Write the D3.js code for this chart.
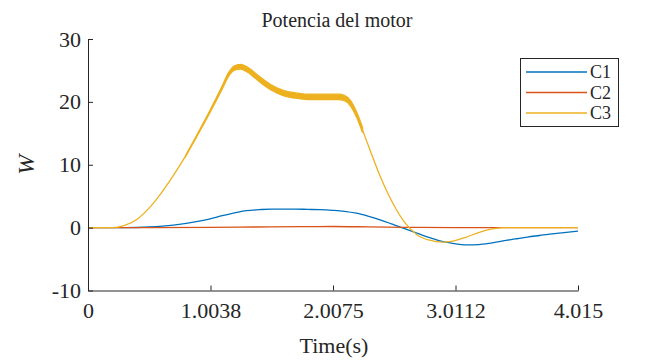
<!DOCTYPE html>
<html>
<head>
<meta charset="utf-8">
<script src="https://cdn.jsdelivr.net/npm/d3@7"></script>
<style>
  html, body { margin: 0; padding: 0; background: #fff; }
  svg { display: block; }
  text { font-family: "Liberation Serif", "Times New Roman", serif; fill: #262626; }
</style>
</head>
<body>
<svg id="chart" width="666" height="360"></svg>
<script>
// Motor power per channel over time
const seriesNames = ["C1", "C2", "C3"];
const seriesColors = ["#0072BD", "#D95319", "#EDB120"];

const xTickValues = [0, 1.00375, 2.0075, 3.01125, 4.015];
const xTickLabels = ["0", "1.0038", "2.0075", "3.0112", "4.015"];
const yTickValues = [-10, 0, 10, 20, 30];
const yTickLabels = ["-10", "0", "10", "20", "30"];

// C1
const c1Time = [0, 0.3, 0.5, 0.7, 0.9, 1.0, 1.1, 1.2, 1.3, 1.4, 1.5, 1.6, 1.7, 1.8, 1.9, 2.0, 2.1, 2.2, 2.3, 2.4, 2.5, 2.6, 2.7, 2.8, 2.9, 3.0, 3.1, 3.2, 3.3, 3.4, 3.5, 3.6, 3.7, 3.8, 3.9, 4.015];
const c1Power = [0, 0, 0.1, 0.4, 1.0, 1.4, 1.9, 2.35, 2.7, 2.85, 2.95, 2.95, 2.95, 2.9, 2.85, 2.75, 2.6, 2.3, 1.8, 1.2, 0.5, -0.2, -0.9, -1.6, -2.2, -2.55, -2.75, -2.7, -2.45, -2.1, -1.8, -1.5, -1.25, -1.0, -0.8, -0.55];

// C2
const c2Time = [0, 0.5, 1.0, 1.5, 2.0, 2.3, 2.6, 3.0, 4.015];
const c2Power = [0, 0, 0.05, 0.12, 0.18, 0.12, 0.05, 0, 0];

// C3
const c3Time = [0, 0.2, 0.3, 0.4, 0.5, 0.6, 0.7, 0.8, 0.9, 1.0, 1.1, 1.15, 1.2, 1.25, 1.3, 1.4, 1.5, 1.6, 1.7, 1.8, 1.9, 2.0, 2.05, 2.1, 2.15, 2.2, 2.25, 2.3, 2.4, 2.5, 2.6, 2.7, 2.8, 2.9, 3.0, 3.1, 3.2, 3.3, 3.4, 4.015];
const c3Power = [0, 0, 0.35, 1.3, 3.1, 5.5, 8.3, 11.4, 14.9, 18.5, 22.3, 24.3, 25.4, 25.6, 25.2, 23.7, 22.3, 21.4, 21.0, 20.8, 20.8, 20.8, 20.8, 20.6, 19.8, 18.0, 15.5, 12.9, 7.9, 3.8, 0.7, -1.2, -2.0, -2.3, -2.1, -1.5, -0.8, -0.25, 0, 0];
// half-width of the fast ripple riding on C3 (W)
const c3Ripple = [0, 0, 0, 0, 0, 0, 0, 0.05, 0.12, 0.18, 0.25, 0.3, 0.35, 0.38, 0.4, 0.42, 0.42, 0.42, 0.42, 0.42, 0.42, 0.42, 0.42, 0.42, 0.42, 0.42, 0.42, 0, 0, 0, 0, 0, 0, 0, 0, 0, 0, 0, 0, 0];

const svg = d3.select("#chart");
const x = d3.scaleLinear().domain([0, 4.015]).range([88, 578]);
const y = d3.scaleLinear().domain([-10, 30]).range([290.5, 39]);

const zip = (t, v) => t.map((d, i) => [d, v[i]]);
const line = d3.line().x(d => x(d[0])).y(d => y(d[1])).curve(d3.curveMonotoneX);

const plot = svg.append("g");
const series = [zip(c1Time, c1Power), zip(c2Time, c2Power), zip(c3Time, c3Power)];
series.forEach((pts, i) => {
  plot.append("path")
    .attr("d", line(pts))
    .attr("fill", "none")
    .attr("stroke", seriesColors[i])
    .attr("stroke-width", 1.3);
});

// ripple envelope on C3
const ripplePts = c3Time
  .map((t, i) => ({ t, v: c3Power[i], a: c3Ripple[i] }))
  .filter(d => d.a > 0);
plot.append("path")
  .attr("d", d3.area()
    .x(d => x(d.t))
    .y0(d => y(d.v - d.a))
    .y1(d => y(d.v + d.a))
    .curve(d3.curveMonotoneX)(ripplePts))
  .attr("fill", seriesColors[2])
  .attr("stroke", seriesColors[2])
  .attr("stroke-width", 1.3);

// axes with inward ticks
const xAxis = d3.axisBottom(x)
  .tickValues(xTickValues)
  .tickFormat((d, i) => xTickLabels[i])
  .tickSizeInner(-5).tickSizeOuter(0).tickPadding(12);
const gx = svg.append("g").attr("transform", `translate(0,${y(-10)})`).call(xAxis);

const yAxis = d3.axisLeft(y)
  .tickValues(yTickValues)
  .tickFormat((d, i) => yTickLabels[i])
  .tickSizeInner(-5).tickSizeOuter(0).tickPadding(7);
const gy = svg.append("g").attr("transform", `translate(${x(0)},0)`).call(yAxis);

[gx, gy].forEach(g => {
  g.select(".domain").attr("stroke", "#262626").attr("stroke-width", 1);
  g.selectAll(".tick line").attr("stroke", "#262626").attr("stroke-width", 1);
  g.selectAll(".tick text")
    .attr("fill", "#262626")
    .style("font-family", '"Liberation Serif", serif')
    .style("font-size", "22px");
});

// titles
svg.append("text")
  .attr("x", 337).attr("y", 27)
  .attr("text-anchor", "middle")
  .style("font-size", "20px")
  .text("Potencia del motor");

svg.append("text")
  .attr("x", 334).attr("y", 353)
  .attr("text-anchor", "middle")
  .style("font-size", "22px")
  .text("Time(s)");

svg.append("text")
  .attr("transform", `translate(34,${y(10)}) rotate(-90)`)
  .attr("text-anchor", "middle")
  .style("font-size", "24px")
  .style("font-style", "italic")
  .text("W");

// legend
const legend = svg.append("g");
legend.append("rect")
  .attr("x", 520.5).attr("y", 58.5)
  .attr("width", 98).attr("height", 68)
  .attr("fill", "#fff")
  .attr("stroke", "#262626")
  .attr("stroke-width", 1);
seriesNames.forEach((name, i) => {
  const ly = 72 + i * 20.5;
  legend.append("line")
    .attr("x1", 526).attr("x2", 587)
    .attr("y1", ly).attr("y2", ly)
    .attr("stroke", seriesColors[i])
    .attr("stroke-width", 1.3);
  legend.append("text")
    .attr("x", 590).attr("y", ly)
    .attr("dy", "0.35em")
    .style("font-size", "18px")
    .text(name);
});
</script>
</body>
</html>
